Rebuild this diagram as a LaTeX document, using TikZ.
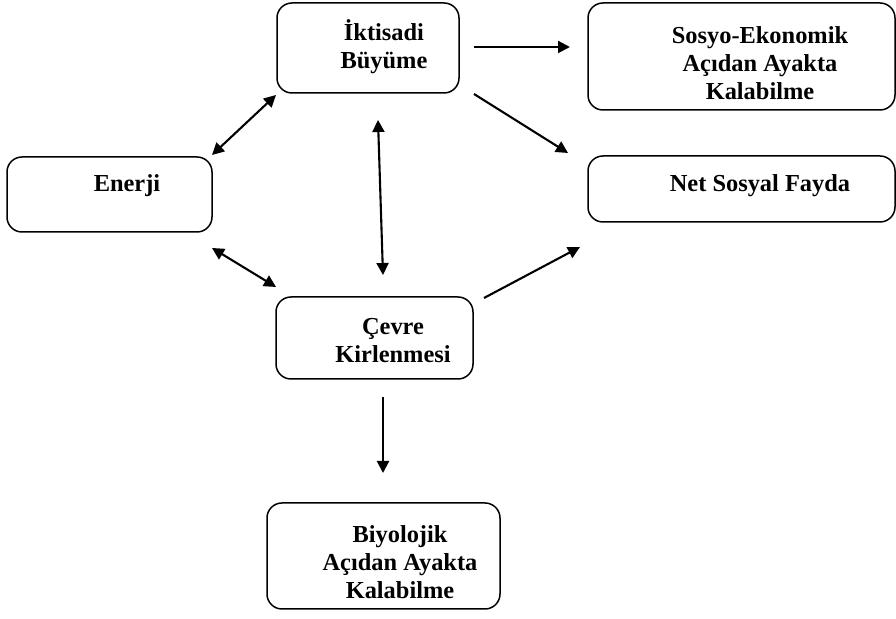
\documentclass[tikz,border=0pt]{standalone}
\usepackage{fontspec}
\setmainfont{Liberation Serif}
\usetikzlibrary{arrows.meta,fit}
\begin{document}
\begin{tikzpicture}[x=0.5pt,y=-0.5pt,
  box/.style={draw, line width=0.75pt, rounded corners=7.5pt, inner sep=0pt},
  lbl/.style={font=\bfseries\fontsize{12.2}{14}\selectfont, align=center, inner sep=0pt},
  tip/.tip={Triangle[length=6pt,width=6pt]},
  conn/.style={line width=1.05pt, -tip},
  biconn/.style={line width=1.05pt, tip-tip}]
\useasboundingbox (0,0) rectangle (896,619);
% boxes
\node[box, fit={(277,3) (459,93)}] (ikt) {};
\node[box, fit={(588,3) (895,110)}] (sos) {};
\node[box, fit={(7,157) (212,232)}] (ene) {};
\node[box, fit={(588,156) (895,222)}] (net) {};
\node[box, fit={(276,297) (473,379)}] (cev) {};
\node[box, fit={(267,503) (500,609)}] (bio) {};
% labels
\node[lbl] (iktT) at (384,47) {İktisadi\\Büyüme};
\node[lbl] (sosT) at (760,63) {Sosyo-Ekonomik\\Açıdan Ayakta\\Kalabilme};
\node[lbl] (netT) at (760,186) {Net Sosyal Fayda};
\node[lbl] (eneT) at (127,186) {Enerji};
\node[lbl] (cevT) at (393,341) {Çevre\\Kirlenmesi};
\node[lbl] (bioT) at (400,562) {Biyolojik\\Açıdan Ayakta\\Kalabilme};
% connector end points
\coordinate (a1) at (474,47);   \coordinate (a2) at (570,47);
\coordinate (b1) at (474,94);   \coordinate (b2) at (568,153);
\coordinate (c1) at (212,155);  \coordinate (c2) at (276,95);
\coordinate (d1) at (378,120);  \coordinate (d2) at (383,275);
\coordinate (e1) at (212,248);  \coordinate (e2) at (276,287);
\coordinate (f1) at (484,298);  \coordinate (f2) at (580,247);
\coordinate (g1) at (383,397);  \coordinate (g2) at (383,473);
% connectors
\draw[conn] (a1) -- (a2);
\draw[conn] (b1) -- (b2);
\draw[biconn] (c1) -- (c2);
\draw[biconn] (d1) -- (d2);
\draw[biconn] (e1) -- (e2);
\draw[conn] (f1) -- (f2);
\draw[conn] (g1) -- (g2);
\end{tikzpicture}
\end{document}
